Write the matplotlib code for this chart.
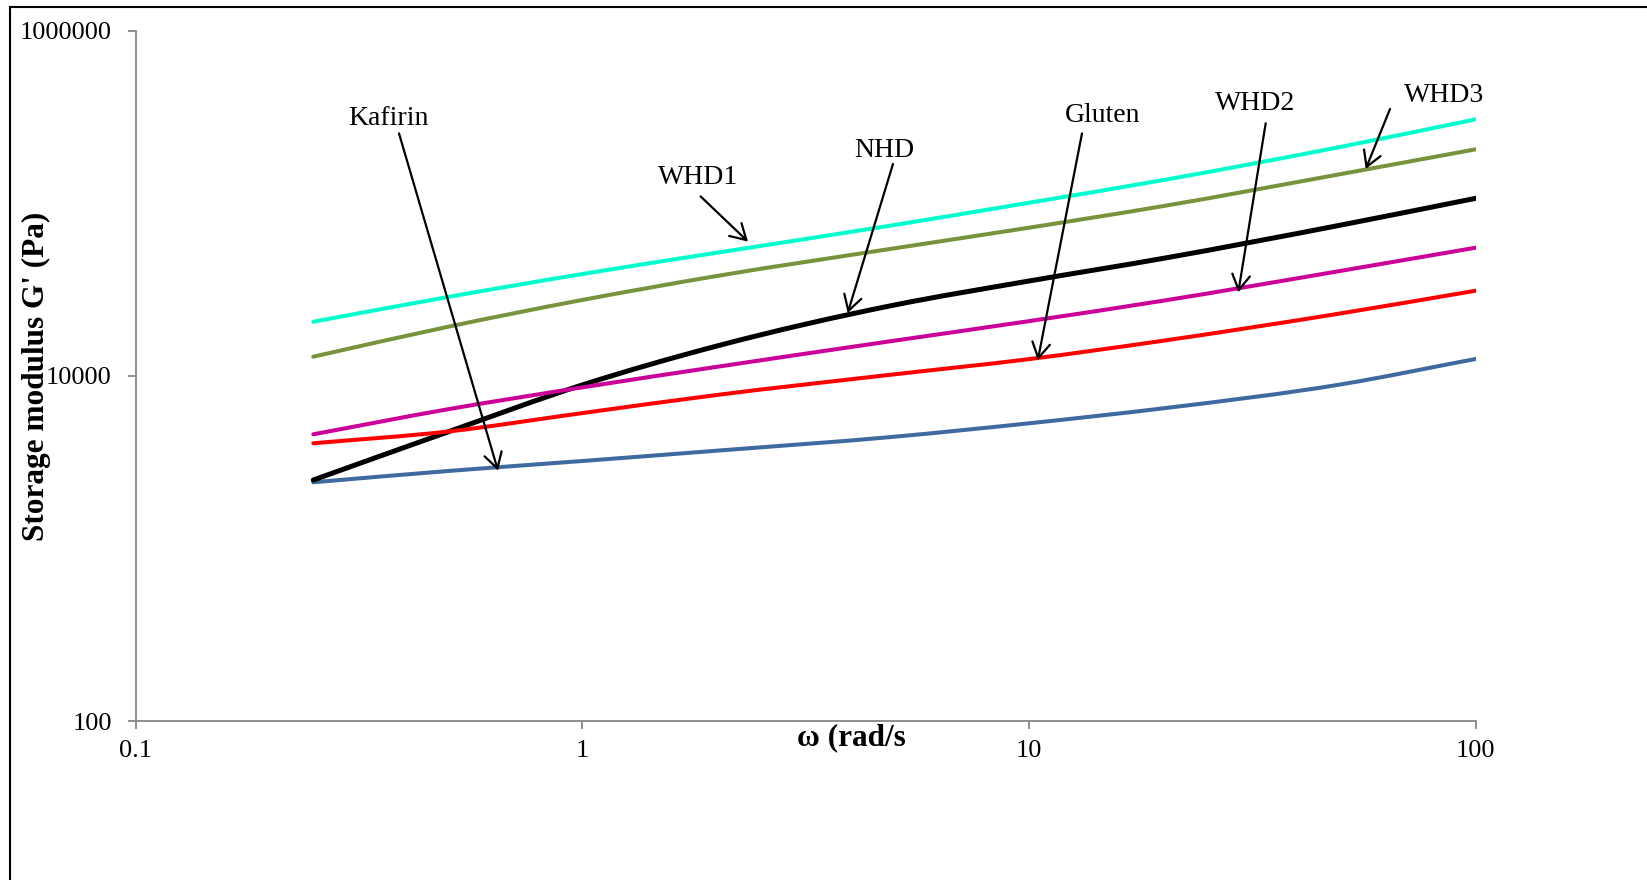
import matplotlib
matplotlib.use("Agg")
import numpy as np
import matplotlib.pyplot as plt
from matplotlib.patches import Rectangle, PathPatch
from matplotlib.path import Path
from matplotlib.ticker import FixedLocator, NullLocator, FixedFormatter

plt.rcParams['font.family'] = ['Liberation Serif', 'DejaVu Serif']

# Frequency sweep: angular frequency (rad/s) and storage modulus G' (Pa)
omega = [0.25, 0.5, 1, 2, 5, 10, 20, 50, 100]
kafirin = [2420, 2813, 3215, 3690, 4447, 5319, 6500, 8950, 12560]
nhd = [2495, 4737, 8870, 14920, 25800, 35540, 48120, 75070, 107200]
gluten = [4074, 4764, 6095, 7762, 10230, 12530, 16030, 23100, 31230]
whd2 = [4592, 6412, 8590, 11300, 16030, 20800, 27350, 40740, 55460]
whd1 = [20640, 28710, 39020, 51850, 75070, 101070, 136850, 213450, 307700]
whd3 = [12940, 19280, 27590, 37990, 55000, 72400, 96700, 148300, 206200]

x_ticks = [0.1, 1, 10, 100]
x_tick_labels = ['0.1', '1', '10', '100']
y_ticks = [100, 10000, 1000000]
y_tick_labels = ['100', '10000', '1000000']


def smooth_path(xs, ys):
    """Smoothed line through the points: cubic Hermite segments in
    log-log space written as Bezier curves, returned in data units."""
    lx = np.log10(np.asarray(xs, float))
    ly = np.log10(np.asarray(ys, float))
    h = np.diff(lx)
    d = np.diff(ly) / h
    n = len(lx)
    m = np.empty(n)
    m[0], m[-1] = d[0], d[-1]
    for i in range(1, n - 1):
        m[i] = (h[i] * d[i - 1] + h[i - 1] * d[i]) / (h[i - 1] + h[i])
    verts = [(lx[0], ly[0])]
    codes = [Path.MOVETO]
    for i in range(n - 1):
        t = h[i] / 3.0
        verts += [(lx[i] + t, ly[i] + m[i] * t),
                  (lx[i + 1] - t, ly[i + 1] - m[i + 1] * t),
                  (lx[i + 1], ly[i + 1])]
        codes += [Path.CURVE4] * 3
    return Path(10 ** np.array(verts), codes)


W, H = 1647, 880
fig = plt.figure(figsize=(W / 100, H / 100), dpi=100)
ax = fig.add_axes([135.5 / W, (H - 721) / H, (1475.8 - 135.5) / W, 690 / H])

series = [
    (kafirin, '#3F6A9F', 2.9),
    (nhd, '#000000', 3.6),
    (gluten, '#FF0000', 2.9),
    (whd2, '#CC0099', 2.9),
    (whd3, '#77933C', 2.9),
    (whd1, '#00FFCC', 2.9),
]
for vals, col, lw in series:
    patch = PathPatch(smooth_path(omega, vals), facecolor='none',
                      edgecolor=col, lw=lw, capstyle='round',
                      joinstyle='round')
    ax.add_patch(patch)

ax.set_xscale('log')
ax.set_yscale('log')
ax.set_xlim(0.1, 100)
ax.set_ylim(100, 1000000)
ax.xaxis.set_major_locator(FixedLocator(x_ticks))
ax.xaxis.set_major_formatter(FixedFormatter(x_tick_labels))
ax.yaxis.set_major_locator(FixedLocator(y_ticks))
ax.yaxis.set_major_formatter(FixedFormatter(y_tick_labels))
ax.xaxis.set_minor_locator(NullLocator())
ax.yaxis.set_minor_locator(NullLocator())

axis_grey = '#868686'
for side in ('top', 'right'):
    ax.spines[side].set_visible(False)
for side in ('left', 'bottom'):
    ax.spines[side].set_color(axis_grey)
    ax.spines[side].set_linewidth(1.3)
ax.tick_params(axis='both', direction='out', length=6, width=1.3,
               color=axis_grey, labelsize=19, labelcolor='black')
ax.tick_params(axis='y', pad=11)
ax.tick_params(axis='x', pad=8)

# Axis titles
fig.text(36.8 / W, 1 - 376 / H, "Storage modulus G' (Pa)", rotation=90,
         ha='center', va='center', fontsize=22.5, fontweight='bold')
fig.text(851 / W, 1 - 738 / H, "ω (rad/s", ha='center', va='center',
         fontsize=22.5, fontweight='bold')

# Curve labels with pointer arrows (figure pixel positions)
labels = [
    ('Kafirin', (388.6, 118.7), (399, 133.4), (498, 470.6)),
    ('WHD1', (698.5, 177.5), (700.6, 196.4), (748, 241.6)),
    ('NHD', (884.4, 150.2), (893, 163.9), (847.7, 313)),
    ('Gluten', (1103, 115.5), (1082, 133.4), (1037.8, 360.3)),
    ('WHD2', (1255.5, 103.3), (1265.7, 123.3), (1238.3, 292.3)),
    ('WHD3', (1444.5, 95.7), (1390, 109), (1365.7, 169)),
]
for name, (tx, ty), (sx, sy), (ex, ey) in labels:
    fig.text(tx / W, 1 - ty / H, name, ha='center', va='center', fontsize=20)
    ax.annotate('', xy=(ex, H - ey), xycoords='figure pixels',
                xytext=(sx, H - sy), textcoords='figure pixels',
                arrowprops=dict(arrowstyle='->,head_length=0.55,head_width=0.32',
                                lw=1.6, color='black', shrinkA=0, shrinkB=0,
                                mutation_scale=20),
                annotation_clip=False)

# Outer frame
fig.add_artist(Rectangle((10 / W, -0.05), 1.2, 1.05 - 7.5 / H,
                         transform=fig.transFigure, fill=False,
                         edgecolor='black', lw=1.5))

fig.savefig('out.png', dpi=100, facecolor='white')
